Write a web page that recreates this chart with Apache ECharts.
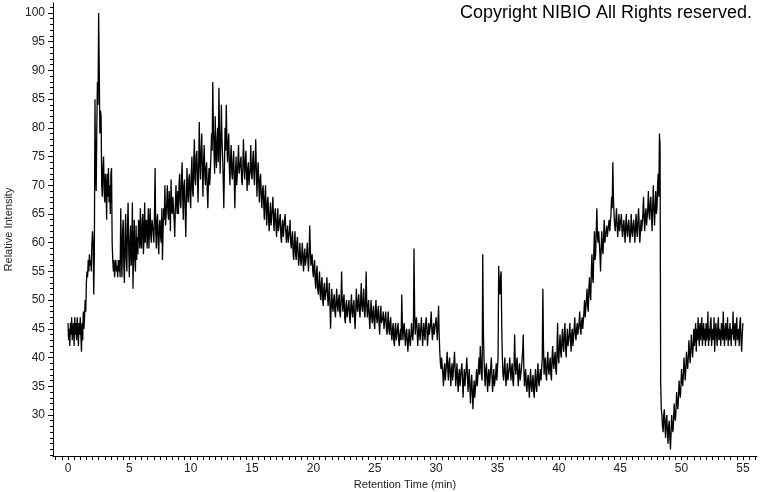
<!DOCTYPE html>
<html>
<head>
<meta charset="utf-8">
<script src="https://cdn.jsdelivr.net/npm/echarts@6/dist/echarts.min.js"></script>
<style>html,body{margin:0;padding:0;background:#fff}#c{width:760px;height:492px}</style>
</head>
<body>
<div id="c"></div>
<script>
// Retention time sampling (min)
const T_START = 0;
const T_STEP = 0.05;
// Relative intensity, one row per minute (20 samples each)
const intensity = [
46,43,45,42,46,44,47,43,45,46,42,47,44,46,43,47,45,42,46,44,
47,44,41,46,43,48,45,47,50,48,53,55,54,57,55,58,56,57,55,60,
62,60,51,58,85,72,69,80,88,84,100,90,79,83,82,70,68,73,75,69,
67,72,70,64,72,68,73,67,70,65,72,73,60,57,55,57,54,56,57,55,
56,54,57,55,57,54,66,58,54,62,64,56,53,61,65,57,55,63,67,59,
54,60,63,56,58,67,52,59,64,57,55,63,57,61,58,64,63,59,66,60,
59,64,65,58,61,67,60,63,64,59,62,66,59,63,66,61,60,64,64,62,
60,65,73,62,59,64,65,60,58,63,64,61,60,66,57,62,66,64,70,63,
63,67,70,65,64,69,66,62,71,66,65,68,68,64,61,66,70,67,65,69,
65,70,72,67,66,71,74,68,64,70,71,66,61,67,73,69,67,71,72,68,
66,72,75,69,68,74,78,71,70,75,76,72,67,73,81,74,71,76,79,73,
68,74,77,72,70,73,74,69,66,71,73,70,70,75,79,76,88,80,76,72,
82,76,73,78,80,74,87,79,72,77,84,78,75,71,66,73,80,76,84,78,
74,77,79,73,70,75,77,72,71,74,76,71,66,72,75,70,70,74,77,72,
72,74,75,71,70,73,78,74,71,74,76,72,69,73,74,70,70,73,77,72,
71,74,76,72,70,74,78,73,68,72,74,70,67,71,72,68,66,69,70,67,
64,68,70,65,63,67,68,64,62,65,67,63,63,66,68,64,62,65,66,63,
61,64,66,62,62,64,65,61,60,63,64,61,61,64,65,62,60,62,63,60,
60,62,64,60,59,61,62,58,57,60,62,58,57,60,61,58,56,58,60,57,
56,58,60,57,55,58,59,56,56,58,60,57,55,58,63,59,56,57,58,55,
54,56,57,53,52,55,56,52,51,53,55,51,50,53,54,50,49,52,53,50,
50,52,54,51,49,51,53,49,45,49,52,49,48,50,51,48,47,50,52,49,
48,50,51,48,47,50,55,50,48,50,51,47,46,49,50,47,47,49,50,47,
46,49,51,48,47,49,50,47,45,48,52,49,48,50,51,48,47,50,53,49,
48,50,52,48,47,50,55,49,47,49,50,47,45,48,50,47,46,48,49,46,
45,48,50,47,46,48,49,46,44,47,49,46,46,47,48,45,45,47,48,45,
44,46,48,45,44,46,47,44,43,45,46,43,42,45,46,43,43,45,46,43,
42,44,45,43,51,46,43,45,46,44,42,44,45,43,41,43,45,43,42,44,
46,44,43,45,59,48,44,46,47,45,42,44,46,44,43,45,47,45,42,44,
46,44,43,46,47,45,42,44,46,44,44,46,48,45,43,45,46,44,44,46,
47,45,43,46,49,44,41,39,38,40,40,37,35,38,39,36,36,39,41,38,
36,39,40,37,35,38,39,36,36,39,41,38,35,37,39,36,34,37,38,35,
35,38,39,36,33,36,38,35,35,38,40,37,34,36,38,35,32,35,37,34,
31,34,36,33,33,36,38,35,35,38,40,37,42,39,37,36,58,45,40,37,
35,38,39,36,34,37,38,35,35,38,40,37,34,36,38,35,35,37,39,36,
36,40,56,52,51,54,55,45,40,37,36,38,40,37,35,37,39,36,36,38,
40,38,36,38,39,36,35,38,44,39,37,39,40,37,35,38,39,36,36,38,
38,41,44,38,35,37,38,35,34,36,37,35,33,36,38,35,34,36,37,34,
33,36,38,35,34,37,39,36,35,37,38,36,36,40,52,42,37,39,40,37,
36,39,41,38,37,39,40,37,36,40,42,39,38,40,41,38,37,41,46,40,
39,42,44,41,40,43,45,42,41,44,46,42,40,43,45,42,42,44,46,43,
41,44,45,42,42,45,47,44,43,45,46,44,44,46,48,45,44,46,47,45,
45,48,50,47,47,50,52,49,48,52,54,51,50,55,58,54,53,58,62,57,
58,62,66,61,60,62,62,58,55,59,62,59,58,61,64,60,60,62,63,61,
61,63,64,62,62,65,68,66,74,68,65,63,62,64,66,63,61,63,65,62,
62,64,65,62,61,63,64,62,60,63,65,62,61,63,64,62,60,62,65,62,
61,63,64,62,60,63,65,62,61,64,66,63,60,62,64,62,62,65,68,64,
62,65,66,63,63,66,69,65,64,67,68,65,62,66,70,66,63,66,69,65,
66,70,72,68,79,77,36,31,30,28,27,30,31,28,26,29,30,27,25,28,
29,26,24,27,30,28,27,29,32,30,29,31,34,32,31,33,36,34,33,35,
38,36,35,37,40,38,36,38,41,39,38,40,43,41,39,41,44,42,40,42,
45,42,44,46,41,45,43,47,44,42,46,43,45,47,42,44,46,43,45,42,
46,43,44,48,42,45,43,46,47,42,44,45,43,47,41,44,46,44,42,45,
47,43,45,44,42,46,45,43,48,44,42,45,46,43,44,47,42,45,43,46,
46,42,45,44,48,43,44,46,42,45,47,43,44,45,42,46,47,43,41,44,
46
];
const xLabelValues = [0,5,10,15,20,25,30,35,40,45,50,55];
const yLabelValues = [30,35,40,45,50,55,60,65,70,75,80,85,90,95,100];

const xTickValues = [];
for (let v = -1; v <= 56; v += 0.5) xTickValues.push(+v.toFixed(1));
const yMinorTicks = [];
for (let v = 23; v <= 101; v += 1) yMinorTicks.push(v);

const seriesData = intensity.map((v, i) => [+(T_START + i * T_STEP).toFixed(2), v]);

const FONT = 'Liberation Sans, Arial, sans-serif';
const chart = echarts.init(document.getElementById('c'), null, {renderer: 'canvas'});
chart.setOption({
  animation: false,
  backgroundColor: '#fff',
  grid: {left: 53, right: 3, top: 3, bottom: 36, containLabel: false, outerBoundsMode: 'none'},
  xAxis: {
    type: 'value', min: -1.22, max: 56.15,
    name: 'Retention Time (min)', nameLocation: 'middle', nameGap: 23,
    nameTextStyle: {fontFamily: FONT, fontSize: 11, color: '#222'},
    axisLine: {show: true, onZero: false, lineStyle: {color: '#000', width: 1}},
    axisTick: {show: true, length: 4, customValues: xTickValues, lineStyle: {color: '#000'}},
    axisLabel: {customValues: xLabelValues, margin: 7, fontFamily: FONT, fontSize: 12, color: '#222'},
    splitLine: {show: false}
  },
  yAxis: [{
    type: 'value', min: 22.86, max: 101.74, position: 'left',
    name: 'Relative Intensity', nameLocation: 'middle', nameGap: 38, nameRotate: 90,
    nameTextStyle: {fontFamily: FONT, fontSize: 11, color: '#222'},
    axisLine: {show: true, onZero: false, lineStyle: {color: '#000', width: 1}},
    axisTick: {show: true, length: 5, customValues: yLabelValues, lineStyle: {color: '#000'}},
    axisLabel: {customValues: yLabelValues, margin: 8, fontFamily: FONT, fontSize: 12, color: '#222'},
    splitLine: {show: false}
  }, {
    type: 'value', min: 22.86, max: 101.74, position: 'left', offset: 0,
    axisLine: {show: false, onZero: false},
    axisTick: {show: true, length: 3, customValues: yMinorTicks, lineStyle: {color: '#000'}},
    axisLabel: {show: false},
    splitLine: {show: false}
  }],
  graphic: [{
    type: 'text', right: 8, top: 4,
    style: {text: 'Copyright NIBIO All Rights reserved.', fontFamily: FONT, fontSize: 18, fill: '#000'}
  }],
  series: [{
    type: 'line', data: seriesData, yAxisIndex: 0,
    showSymbol: false, symbol: 'none',
    lineStyle: {color: '#000', width: 1.3},
    sampling: null
  }]
});
</script>
</body>
</html>
